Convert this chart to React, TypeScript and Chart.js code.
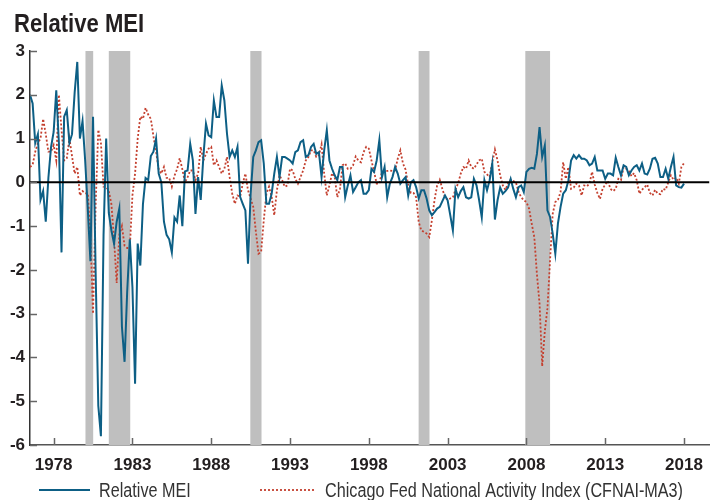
import React, { useEffect, useRef } from 'react';
import { Chart, registerables } from 'chart.js';

Chart.register(...registerables);

// Observations every two months, starting July 1976
const START_YEAR = 1976.5;
const STEP_YEARS = 1 / 6;

const relativeMEI = [
  2.0, 1.8, 0.9, 1.1, -0.4, -0.2, -0.9, 0.1, 0.8, 1.15,
  2.1, 0.9, -1.6, 1.5, 1.65, 0.9, 1.1, 2.05, 2.75, 1.0,
  1.4, 0.5, -0.6, -1.8, 1.5, -2.1, -5.1, -5.8, -1.2, 1.0,
  -0.7, -1.1, -1.4, -0.9, -0.6, -3.3, -4.1, -2.5, -1.3, -2.4,
  -4.6, -1.4, -1.9, -0.5, 0.1, 0.05, 0.6, 0.7, 1.0, 0.2,
  0.0, -0.9, -1.2, -1.3, -1.6, -0.8, -0.9, -0.3, -1.0, 0.25,
  0.27, 0.88, 0.5, -0.72, 0.12, -0.4, 0.58, 1.34, 1.07, 1.03,
  1.87, 1.49, 1.49, 2.21, 1.87, 1.11, 0.58, 0.73, 0.58, 0.81,
  -0.33, -0.49, -0.64, -1.86, -0.26, 0.58, 0.73, 0.92, 0.96, 0.43,
  -0.49, -0.49, -0.26, 0.2, 0.58, 0.12, 0.58, 0.58, 0.54, 0.5,
  0.43, 0.69, 0.73, 0.92, 0.96, 0.58, 0.62, 0.81, 0.88, 0.65,
  0.69, 0.12, 0.73, 1.19, 0.5, 0.31, 0.16, 0.05, 0.35, 0.35,
  -0.34, -0.07, 0.16, -0.22, -0.11, 0.0, 0.05, -0.26, -0.26, -0.18,
  0.31, 0.24, 0.5, 0.96, 0.12, 0.35, -0.34, -0.03, 0.12, 0.35,
  0.2, -0.03, 0.05, 0.12, -0.3, 0.0, 0.05, -0.11, -0.37, -0.18,
  -0.18, -0.37, -0.64, -0.75, -0.68, -0.6, -0.56, -0.43, -0.3, -0.41,
  -0.75, -1.1, -0.15, -0.34, -0.2, -0.11, -0.34, -0.37, -0.34, 0.08,
  -0.07, -0.41, -0.8, 0.05, -0.18, 0.05, 0.43, -0.85, -0.41, -0.12,
  -0.26, -0.2, -0.12, 0.08, -0.15, -0.34, -0.11, -0.07, -0.22, 0.24,
  0.31, 0.33, 0.31, 0.65, 1.26, 0.58, 0.84, -0.64, -0.79, -1.17,
  -1.63, -0.94, -0.56, -0.26, -0.18, 0.05, 0.5, 0.62, 0.54, 0.62,
  0.54, 0.54, 0.5, 0.39, 0.43, 0.58, 0.27, 0.27, 0.27, 0.08,
  0.2, 0.2, 0.16, 0.56, 0.35, 0.16, 0.39, 0.35, 0.16, 0.27,
  0.35, 0.39, 0.27, 0.43, 0.2, 0.18, 0.31, 0.54, 0.56, 0.43,
  0.12, 0.12, 0.31, 0.08, 0.35, 0.58, -0.07, -0.11, -0.12, -0.03,
];

const cfnaiMA3 = [
  0.35, 0.4, 0.7, 0.9, 1.0, 1.45, 1.1, 0.7, 0.7, 0.85,
  0.5, 2.0, 1.2, 0.5, 0.55, 1.0, 0.6, 0.2, 0.35, -0.3,
  -0.2, -0.25, -0.25, -1.2, -3.0, -0.5, 1.2, 0.9, -0.1, -0.1,
  -0.2, -0.5, -1.3, -2.3, -1.2, -1.0, -1.45, -1.5, -1.5, -0.3,
  0.2, 1.0, 1.5, 1.45, 1.7, 1.55, 1.45, 1.05, 0.7, 0.3,
  0.2, 0.35, 0.1, 0.1, -0.1, 0.15, 0.3, 0.55, 0.3, 0.0,
  0.12, 0.27, 0.27, 0.05, 0.2, 0.81, 0.5, 0.65, 0.77, 0.81,
  0.39, 0.5, 0.35, 0.2, 0.31, 0.58, 0.12, -0.26, -0.49, -0.3,
  -0.33, -0.03, 0.2, -0.18, -0.37, -0.56, -1.13, -1.63, -1.59, -0.87,
  -0.26, -0.1, -0.33, -0.75, -0.18, 0.16, 0.05, -0.1, -0.07, 0.31,
  0.27, 0.08, -0.03, 0.12, 0.27, 0.5, 0.58, 0.73, 0.73, 0.58,
  0.62, 0.87, 0.2, -0.3, -0.07, 0.21, 0.12, -0.34, -0.15, 0.39,
  0.43, 0.31, 0.31, 0.39, 0.59, 0.5, 0.46, 0.69, 0.81, 0.77,
  0.5, 0.24, -0.03, -0.03, 0.24, 0.24, 0.26, 0.27, 0.26, 0.27,
  0.54, 0.73, 0.43, 0.29, -0.07, -0.24, -0.24, -0.34, -0.91, -1.1,
  -1.13, -1.17, -1.25, -0.87, -0.41, -0.07, 0.06, -0.15, -0.34, -0.4,
  -0.37, -0.34, -0.17, -0.02, 0.2, 0.35, 0.31, 0.5, 0.35, 0.31,
  0.41, 0.5, 0.54, 0.24, 0.18, 0.12, 0.46, 0.75, 0.5, 0.16,
  -0.07, -0.17, -0.03, 0.06, 0.03, 0.0, -0.22, -0.34, -0.41, -0.45,
  -0.6, -0.94, -1.25, -2.1, -2.77, -4.2, -3.4, -2.88, -1.78, -0.72,
  -0.45, -0.4, -0.22, 0.46, 0.08, 0.35, -0.15, -0.12, -0.03, -0.07,
  -0.3, -0.07, -0.09, -0.03, 0.24, -0.05, -0.24, -0.38, -0.15, -0.05,
  0.03, -0.15, -0.2, -0.15, 0.08, 0.05, 0.35, 0.31, 0.26, 0.14,
  0.21, 0.05, -0.26, -0.17, -0.11, -0.05, -0.24, -0.3, -0.17, -0.26,
  -0.27, -0.15, -0.17, 0.0, 0.16, 0.06, 0.11, -0.03, 0.35, 0.44,
];

const recessionStart = [1980.02, 1981.5, 1990.48, 2001.16, 2007.93];
const recessionEnd = [1980.51, 1982.86, 1991.19, 2001.85, 2009.5];

const xTickYears = [1978, 1983, 1988, 1993, 1998, 2003, 2008, 2013, 2018];
const yTickValues = [-6, -5, -4, -3, -2, -1, 0, 1, 2, 3];

const TITLE = 'Relative MEI';
const SERIES_NAMES = ['Relative MEI', 'Chicago Fed National Activity Index (CFNAI-MA3)'];
const BLUE = '#0d5f85';
const RED = '#c4402f';

const SANS = "'Liberation Sans', Arial, sans-serif";

// draws text horizontally condensed (no condensed font is installed)
function narrowText(ctx: CanvasRenderingContext2D, text: string, x: number, y: number, sx: number) {
  ctx.save();
  ctx.translate(x, y);
  ctx.scale(sx, 1);
  ctx.fillText(text, 0, 0);
  ctx.restore();
}

export default function App() {
  const ref = useRef<HTMLCanvasElement>(null);

  useEffect(() => {
    const canvas = ref.current;
    if (!canvas) return;
    const toPoints = (arr: number[]) => arr.map((v, i) => ({ x: START_YEAR + i * STEP_YEARS, y: v }));

    const decor = {
      id: 'decor',
      beforeDatasetsDraw(chart: any) {
        const { ctx, chartArea: a, scales } = chart;
        const x = scales.x;
        ctx.save();
        ctx.fillStyle = '#bfbfbf';
        recessionStart.forEach((s, i) => {
          const x0 = x.getPixelForValue(s);
          const x1 = x.getPixelForValue(recessionEnd[i]);
          ctx.fillRect(x0, a.top, x1 - x0, a.bottom - a.top);
        });
        ctx.restore();
      },
      afterDatasetsDraw(chart: any) {
        const { ctx, chartArea: a, scales } = chart;
        const x = scales.x;
        const y = scales.y;
        ctx.save();
        const y0 = y.getPixelForValue(0);
        ctx.strokeStyle = '#000';
        ctx.lineWidth = 2;
        ctx.beginPath();
        ctx.moveTo(a.left, y0);
        ctx.lineTo(a.right, y0);
        ctx.stroke();
        ctx.strokeStyle = '#666';
        ctx.lineWidth = 1.5;
        xTickYears.forEach((yr) => {
          const px = Math.round(x.getPixelForValue(yr)) + 0.5;
          ctx.beginPath();
          ctx.moveTo(px, a.bottom);
          ctx.lineTo(px, a.bottom - 7);
          ctx.stroke();
        });
        yTickValues.forEach((v) => {
          const py = Math.round(y.getPixelForValue(v)) + 0.5;
          ctx.beginPath();
          ctx.moveTo(a.left, py);
          ctx.lineTo(a.left + 7, py);
          ctx.stroke();
        });
        ctx.restore();
      },
      afterDraw(chart: any) {
        const { ctx } = chart;
        ctx.save();
        ctx.fillStyle = '#231f20';
        ctx.font = `bold 26px ${SANS}`;
        ctx.textBaseline = 'alphabetic';
        ctx.textAlign = 'left';
        narrowText(ctx, TITLE, 14, 32, 0.85);
        const ly = 490;
        ctx.lineWidth = 2.2;
        ctx.strokeStyle = BLUE;
        ctx.setLineDash([]);
        ctx.beginPath();
        ctx.moveTo(39, ly);
        ctx.lineTo(90, ly);
        ctx.stroke();
        ctx.lineWidth = 1.8;
        ctx.strokeStyle = RED;
        ctx.setLineDash([2, 2]);
        ctx.beginPath();
        ctx.moveTo(260, ly);
        ctx.lineTo(315, ly);
        ctx.stroke();
        ctx.setLineDash([]);
        ctx.fillStyle = '#333';
        ctx.font = `19.5px ${SANS}`;
        narrowText(ctx, SERIES_NAMES[0], 99, 497, 0.83);
        narrowText(ctx, SERIES_NAMES[1], 325, 497, 0.83);
        ctx.restore();
      },
    };

    const chart = new Chart(canvas, {
      type: 'line',
      data: {
        datasets: [
          {
            label: SERIES_NAMES[0],
            data: toPoints(relativeMEI),
            borderColor: BLUE,
            borderWidth: 2,
            pointRadius: 0,
            tension: 0,
            fill: false,
          },
          {
            label: SERIES_NAMES[1],
            data: toPoints(cfnaiMA3),
            borderColor: RED,
            borderWidth: 1.8,
            borderDash: [2, 2],
            pointRadius: 0,
            tension: 0,
            fill: false,
          },
        ],
      },
      options: {
        responsive: false,
        animation: false,
        events: [],
        layout: { padding: { left: 0, right: 2, top: 51, bottom: 0 } },
        plugins: {
          legend: { display: false },
          title: { display: false },
          tooltip: { enabled: false },
        },
        scales: {
          x: {
            type: 'linear',
            min: 1976.5,
            max: 2019.6,
            afterBuildTicks: (scale: any) => {
              scale.ticks = xTickYears.map((v) => ({ value: v }));
            },
            afterFit: (scale: any) => {
              scale.height = 55;
            },
            grid: { display: false, drawTicks: false, drawOnChartArea: false },
            border: { display: true, color: '#555', width: 1.5 },
            ticks: {
              autoSkip: false,
              maxRotation: 0,
              padding: 10,
              color: '#231f20',
              font: { family: SANS, size: 17, weight: 'bold' },
              callback: (v: any) => String(v),
            },
          },
          y: {
            min: -6,
            max: 3,
            afterBuildTicks: (scale: any) => {
              scale.ticks = yTickValues.map((v) => ({ value: v }));
            },
            afterFit: (scale: any) => {
              scale.width = 30;
            },
            grid: { display: false, drawTicks: false, drawOnChartArea: false },
            border: { display: true, color: '#333', width: 1.5 },
            ticks: {
              padding: 5,
              color: '#231f20',
              font: { family: SANS, size: 17, weight: 'bold' },
              callback: (v: any) => String(v),
            },
          },
        },
      },
      plugins: [decor],
    });

    return () => chart.destroy();
  }, []);

  return (
    <div style={{ position: 'fixed', left: 0, top: 0, width: 713, height: 500, background: '#fff' }}>
      <canvas ref={ref} width={713} height={500} style={{ display: 'block', width: 713, height: 500 }} />
    </div>
  );
}
